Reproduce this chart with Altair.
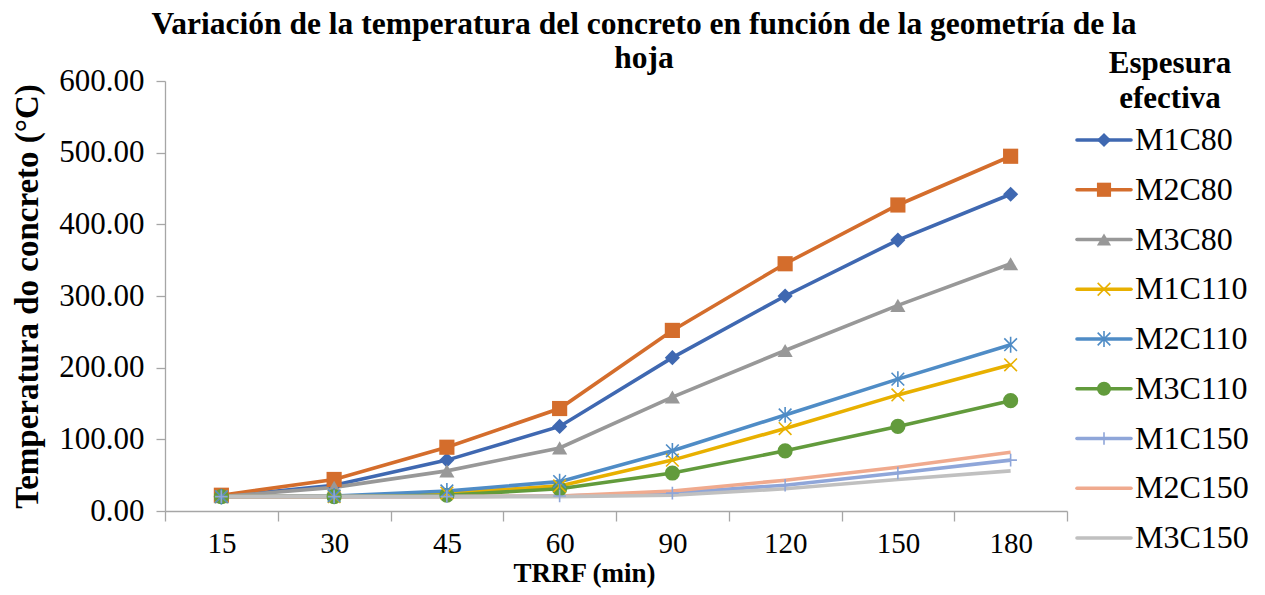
import altair as alt
import pandas as pd

# ---------------- data ----------------
tiempos = ["15", "30", "45", "60", "90", "120", "150", "180"]
series = ["M1C80", "M2C80", "M3C80", "M1C110", "M2C110", "M3C110", "M1C150", "M2C150", "M3C150"]

M1C80 = [20, 36, 71, 118, 214, 300, 378, 442]
M2C80 = [22, 44, 89, 143, 252, 345, 427, 495]
M3C80 = [20, 33, 56, 88, 159, 224, 287, 345]
M1C110 = [20, 20, 25, 35, 71, 115, 162, 204]
M2C110 = [20, 21, 28, 41, 84, 134, 184, 232]
M3C110 = [20, 20, 22, 31, 53, 84, 118, 154]
M1C150 = [20, 20, 20, 21, 25, 36, 53, 71]
M2C150 = [20, 20, 20, 21, 28, 43, 61, 82]
M3C150 = [20, 20, 20, 20, 22, 31, 44, 56]

valores = [M1C80, M2C80, M3C80, M1C110, M2C110, M3C110, M1C150, M2C150, M3C150]

colores = ["#3F68B1", "#D46D2C", "#989898", "#E8B000", "#4F8CC6",
           "#629B3C", "#8FA6D9", "#F0AA8E", "#C0C0C0"]

X_PATH = "M-1,-1L1,1M-1,1L1,-1"
AST_PATH = "M-1,-1L1,1M-1,1L1,-1M0,-1.25L0,1.25"
PLUS_PATH = "M0,-1L0,1M-1,0L1,0"
formas = ["diamond", "square", "triangle-up", X_PATH, AST_PATH, "circle",
          PLUS_PATH, "circle", "circle"]
rellenos = ["M1C80", "M2C80", "M3C80", "M3C110"]
trazos = ["M1C110", "M2C110", "M1C150"]

rows = []
for s, vals in zip(series, valores):
    for t, v in zip(tiempos, vals):
        rows.append({"serie": s, "t": t, "valor": v, "orden": series.index(s)})
df = pd.DataFrame(rows)
leg = pd.DataFrame({"serie": series, "orden": list(range(len(series)))})

FONT = "'Liberation Serif', 'Times New Roman', Tinos, 'DejaVu Serif', serif"
AXC = "#A6A6A6"

color = alt.Color("serie:N", scale=alt.Scale(domain=series, range=colores), legend=None)
shape = alt.Shape("serie:N", scale=alt.Scale(domain=series, range=formas), legend=None)

xenc = alt.X("t:O", sort=tiempos, bandPosition=0.5,
             scale=alt.Scale(type="band", paddingInner=0, paddingOuter=0),
             axis=alt.Axis(title="TRRF (min)", labelAngle=0, tickBand="extent",
                           tickSize=10, labelFontSize=29, labelPadding=8,
                           titleFontSize=27, titleFontWeight="bold",
                           titleX=419, titleY=70, titleBaseline="alphabetic",
                           labelFont=FONT, titleFont=FONT,
                           domainColor=AXC, tickColor=AXC, domainWidth=1.3, tickWidth=1.3))
yenc = alt.Y("valor:Q", scale=alt.Scale(domain=[0, 600]),
             axis=alt.Axis(title="Temperatura do concreto (°C)", values=[0, 100, 200, 300, 400, 500, 600],
                           format=".2f", grid=False, tickSize=9, labelFontSize=31,
                           labelPadding=12, titleFontSize=33, titleFontWeight="bold",
                           titlePadding=14, labelFont=FONT, titleFont=FONT,
                           domainColor=AXC, tickColor=AXC,
                           domainWidth=1.3, tickWidth=1.3))

base = alt.Chart(df)
lineas = base.mark_line(strokeWidth=3.6).encode(x=xenc, y=yenc, color=color, order="orden:Q", detail="serie:N")
puntos_f = base.transform_filter(alt.FieldOneOfPredicate(field="serie", oneOf=rellenos)).mark_point(
    filled=True, opacity=1, size=230).encode(x=xenc, y=yenc, color=color, shape=shape)
puntos_t = base.transform_filter(alt.FieldOneOfPredicate(field="serie", oneOf=trazos)).mark_point(
    filled=False, opacity=1, size=160, strokeWidth=1.6).encode(x=xenc, y=yenc, color=color, shape=shape)
principal = alt.layer(lineas, puntos_f, puntos_t)

# legend drawn in its own layer
ly = alt.Y("serie:N", scale=alt.Scale(type="point", domain=series, range=[59, 457], padding=0), axis=None)
lb = alt.Chart(leg)
l_rule = lb.mark_rule(strokeWidth=3.6, strokeCap="round").encode(
    x=alt.value(912), x2=alt.value(966), y=ly, color=color)
l_pf = lb.transform_filter(alt.FieldOneOfPredicate(field="serie", oneOf=rellenos)).mark_point(
    filled=True, opacity=1, size=200).encode(x=alt.value(939), y=ly, color=color, shape=shape)
l_pt = lb.transform_filter(alt.FieldOneOfPredicate(field="serie", oneOf=trazos)).mark_point(
    filled=False, opacity=1, size=160, strokeWidth=1.6).encode(x=alt.value(939), y=ly, color=color, shape=shape)
l_txt = lb.mark_text(align="left", baseline="middle", fontSize=32, font=FONT, color="#000000").encode(
    x=alt.value(970), y=ly, text="serie:N")
l_tit = alt.Chart(pd.DataFrame({"k": [0]})).mark_text(
    text=["Espesura", "efectiva"], align="center", baseline="alphabetic", fontSize=31,
    fontWeight="bold", font=FONT, lineHeight=35, color="#000000").encode(
    x=alt.value(1005), y=alt.value(-8))
leyenda = alt.layer(l_rule, l_pf, l_pt, l_txt, l_tit)

chart = alt.layer(principal, leyenda).resolve_scale(y="independent").properties(
    width=902, height=430,
    title=alt.TitleParams(
        text=["Variación de la temperatura del concreto en función de la geometría de la", "hoja"],
        fontSize=31.5, fontWeight="bold", font=FONT, anchor="middle", frame="group",
        dx=28, offset=-26, lineHeight=34, color="#000000"),
    autosize=alt.AutoSizeParams(type="none"),
    padding={"left": 165, "top": 81, "right": 198, "bottom": 84},
).configure(font=FONT).configure_view(stroke=None).configure_axis(
    labelColor="#000000", titleColor="#000000")

chart.save("out.html", embed_options={"renderer": "svg", "actions": False})
